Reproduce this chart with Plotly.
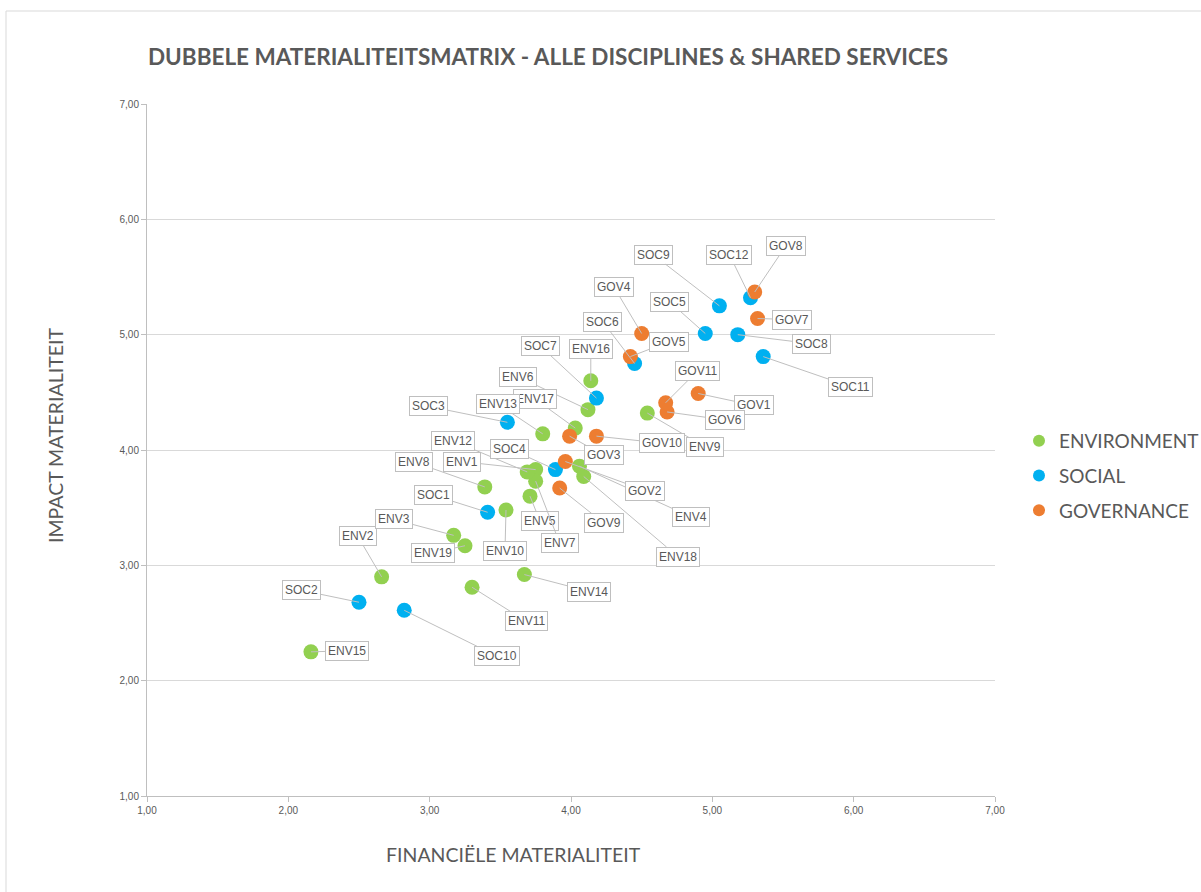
import plotly.graph_objects as go

# ---- data ----
env_names = ["ENV1", "ENV2", "ENV3", "ENV4", "ENV5", "ENV6", "ENV7", "ENV8", "ENV9", "ENV10",
             "ENV11", "ENV12", "ENV13", "ENV14", "ENV15", "ENV16", "ENV17", "ENV18", "ENV19"]
env_fin = [3.75, 2.66, 3.17, 4.06, 3.71, 4.12, 3.75, 3.39, 4.54, 3.54,
           3.30, 3.69, 3.80, 3.67, 2.16, 4.14, 4.03, 4.09, 3.25]
env_imp = [3.83, 2.90, 3.26, 3.86, 3.60, 4.35, 3.73, 3.68, 4.32, 3.48,
           2.81, 3.81, 4.14, 2.92, 2.25, 4.60, 4.19, 3.77, 3.17]

soc_names = ["SOC1", "SOC2", "SOC3", "SOC4", "SOC5", "SOC6", "SOC7", "SOC8", "SOC9", "SOC10",
             "SOC11", "SOC12"]
soc_fin = [3.41, 2.50, 3.55, 3.89, 4.95, 4.45, 4.18, 5.18, 5.05, 2.82, 5.36, 5.27]
soc_imp = [3.46, 2.68, 4.24, 3.83, 5.01, 4.75, 4.45, 5.00, 5.25, 2.61, 4.81, 5.32]

gov_names = ["GOV1", "GOV2", "GOV3", "GOV4", "GOV5", "GOV6", "GOV7", "GOV8", "GOV9", "GOV10", "GOV11"]
gov_fin = [4.90, 3.96, 3.99, 4.50, 4.42, 4.68, 5.32, 5.30, 3.92, 4.18, 4.67]
gov_imp = [4.49, 3.90, 4.12, 5.01, 4.81, 4.33, 5.14, 5.37, 3.67, 4.12, 4.41]

x_ticks = [1, 2, 3, 4, 5, 6, 7]
y_ticks = [1, 2, 3, 4, 5, 6, 7]

# ---- label callout offsets (pixels, layout only) ----
label_offsets = {
    "SOC9": (-66, -51), "SOC12": (-21, -43), "GOV8": (31, -46), "GOV7": (34, 1),
    "SOC5": (-36, -32), "SOC8": (74, 9), "SOC11": (87, 30), "GOV4": (-28, -47),
    "GOV5": (39, -15), "SOC6": (-32, -42), "ENV16": (0, -32), "SOC7": (-56, -52),
    "ENV6": (-70, -33), "ENV17": (-40, -29), "SOC3": (-79, -16), "ENV13": (-45, -30),
    "GOV3": (34, 19), "GOV10": (66, 7), "ENV9": (58, 34), "GOV11": (32, -32),
    "GOV6": (58, 8), "GOV1": (56, 12), "GOV2": (80, 29), "ENV8": (-71, -25),
    "SOC1": (-54, -17), "ENV10": (-1, 41), "ENV3": (-60, -16), "ENV19": (-32, 7),
    "ENV12": (-74, -31), "ENV1": (-74, -8), "ENV5": (10, 25), "ENV7": (24, 62),
    "SOC4": (-46, -21), "GOV9": (44, 35), "ENV4": (112, 51), "ENV18": (94, 80),
    "ENV2": (-24, -41), "SOC2": (-58, -12), "SOC10": (93, 46), "ENV15": (36, -1),
    "ENV11": (54, 34), "ENV14": (65, 17),
}
# labels drawn last (on top of overlapping neighbours)
top_labels = ["ENV13"]

GREEN = "#92D050"
BLUE = "#00B0F0"
ORANGE = "#ED7D31"
GREY_TXT = "#595959"

series = [
    ("ENVIRONMENT", env_names, env_fin, env_imp, GREEN),
    ("SOCIAL", soc_names, soc_fin, soc_imp, BLUE),
    ("GOVERNANCE", gov_names, gov_fin, gov_imp, ORANGE),
]

fig = go.Figure()
label_anns = []
for i, (name, labels, xs, ys, col) in enumerate(series):
    fig.add_trace(go.Scatter(
        x=xs, y=ys, mode="markers", name=name, text=labels,
        legendgroup=f"g{i}",
        marker=dict(size=15, color=col, line=dict(width=0)),
        hovertemplate="%{text}: %{x:.2f}, %{y:.2f}<extra></extra>",
    ))
    for lab, xv, yv in zip(labels, xs, ys):
        dx, dy = label_offsets[lab]
        label_anns.append(dict(
            x=xv, y=yv, xref="x", yref="y", text=lab,
            showarrow=True, arrowhead=0, arrowwidth=1, arrowcolor="#BFBFBF",
            ax=dx, ay=dy, standoff=0, startstandoff=0,
            bgcolor="white", bordercolor="#BFBFBF", borderwidth=1, borderpad=2,
            font=dict(family="Liberation Sans, Arial, sans-serif", size=12, color=GREY_TXT),
        ))

annotations = ([a for a in label_anns if a["text"] not in top_labels]
               + [a for a in label_anns if a["text"] in top_labels])

# axis titles as annotations
annotations.append(dict(
    text="FINANCIËLE MATERIALITEIT", xref="paper", yref="paper",
    x=(513 - 147) / 848, y=(796 - 854) / 692, showarrow=False,
    xanchor="center", yanchor="middle",
    font=dict(family="Lato, sans-serif", size=19.5, color=GREY_TXT),
))
annotations.append(dict(
    text="IMPACT MATERIALITEIT", xref="paper", yref="paper",
    x=(55 - 147) / 848, y=(796 - 436) / 692, showarrow=False, textangle=-90,
    xanchor="center", yanchor="middle",
    font=dict(family="Lato, sans-serif", size=19.5, color=GREY_TXT),
))

fig.update_layout(
    width=1201, height=892,
    margin=dict(l=147, r=206, t=104, b=96),
    paper_bgcolor="white", plot_bgcolor="white",
    separators=",.",
    title=dict(
        text="<b>DUBBELE MATERIALITEITSMATRIX - ALLE DISCIPLINES &amp; SHARED SERVICES</b>",
        x=148 / 1201, xanchor="left", y=1 - 57 / 892, yanchor="middle",
        font=dict(family="Lato, sans-serif", size=22.5, color=GREY_TXT),
    ),
    xaxis=dict(
        range=[1, 7], tickvals=x_ticks, tickformat=".2f", showgrid=False, zeroline=False,
        showline=True, linecolor="#BFBFBF", linewidth=1,
        ticks="outside", ticklen=5, tickcolor="#BFBFBF",
        tickfont=dict(family="Liberation Sans, Arial, sans-serif", size=10, color=GREY_TXT),
    ),
    yaxis=dict(
        range=[1, 7], tickvals=y_ticks, tickformat=".2f", showgrid=True, gridcolor="#D9D9D9",
        zeroline=False, showline=True, linecolor="#BFBFBF", linewidth=1,
        ticks="outside", ticklen=5, tickcolor="#BFBFBF",
        tickfont=dict(family="Liberation Sans, Arial, sans-serif", size=10, color=GREY_TXT),
    ),
    legend=dict(
        xref="container", yref="container",
        x=1019 / 1201, xanchor="left", y=1 - 476 / 892, yanchor="middle",
        font=dict(family="Lato, sans-serif", size=19, color=GREY_TXT),
        itemsizing="constant", tracegroupgap=7, traceorder="grouped",
        bgcolor="rgba(0,0,0,0)",
    ),
    annotations=annotations,
    shapes=[dict(
        type="rect", xref="paper", yref="paper",
        x0=(6 - 147) / 848, x1=1.4, y0=-0.3, y1=(796 - 11) / 692,
        line=dict(color="#D9D9D9", width=1), fillcolor="rgba(0,0,0,0)", layer="below",
    )],
)

fig.write_html("out.html")
